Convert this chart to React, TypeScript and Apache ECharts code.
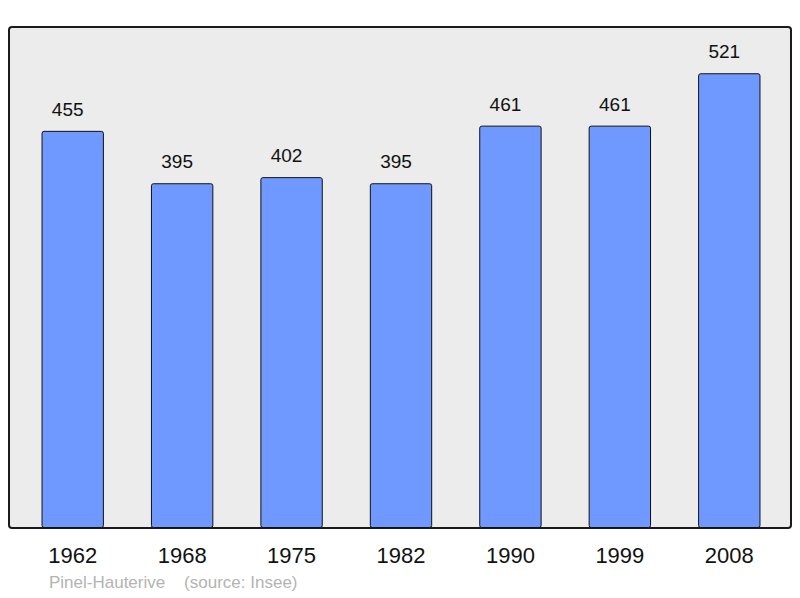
import React, { useEffect, useRef } from "react";
import * as echarts from "echarts";

const years = ["1962", "1968", "1975", "1982", "1990", "1999", "2008"];
const population = [455, 395, 402, 395, 461, 461, 521];
const footerText = "Pinel-Hauterive    (source: Insee)";

export default function App() {
  const ref = useRef<HTMLDivElement>(null);
  useEffect(() => {
    if (!ref.current) return;
    const chart = echarts.init(ref.current, null, { renderer: "svg" });
    chart.setOption({
      animation: false,
      backgroundColor: "#ffffff",
      textStyle: { fontFamily: "Liberation Sans, Arial, sans-serif" },
      grid: { left: 18, right: 16, top: 27, bottom: 70, containLabel: false },
      graphic: [
        {
          type: "rect",
          z: -10,
          shape: { x: 9, y: 27, width: 782, height: 501, r: 3 },
          style: { fill: "#ececec", stroke: "#1a1a1a", lineWidth: 2 },
        },
        {
          type: "text",
          left: 49,
          top: 574,
          style: {
            text: footerText,
            fill: "#b3b3b3",
            fontSize: 17,
            fontFamily: "Liberation Sans, Arial, sans-serif",
          },
        },
      ],
      xAxis: {
        type: "category",
        data: years,
        axisLine: { show: false },
        axisTick: { show: false },
        axisLabel: {
          color: "#111",
          fontSize: 22,
          margin: 16,
          fontFamily: "Liberation Sans, Arial, sans-serif",
        },
      },
      yAxis: {
        type: "value",
        min: 0,
        max: 574,
        show: false,
        splitLine: { show: false },
      },
      series: [
        {
          type: "bar",
          data: population,
          barWidth: "57%",
          itemStyle: {
            color: "#7099ff",
            borderColor: "#111",
            borderWidth: 1,
            borderRadius: 2,
          },
          label: {
            show: true,
            position: "top",
            distance: 12,
            offset: [-5, 0],
            color: "#111",
            fontSize: 19,
            fontFamily: "Liberation Sans, Arial, sans-serif",
          },
        },
      ],
    });
    return () => chart.dispose();
  }, []);
  return (
    <div
      ref={ref}
      style={{ position: "fixed", left: 0, top: 0, width: 800, height: 598 }}
    />
  );
}
